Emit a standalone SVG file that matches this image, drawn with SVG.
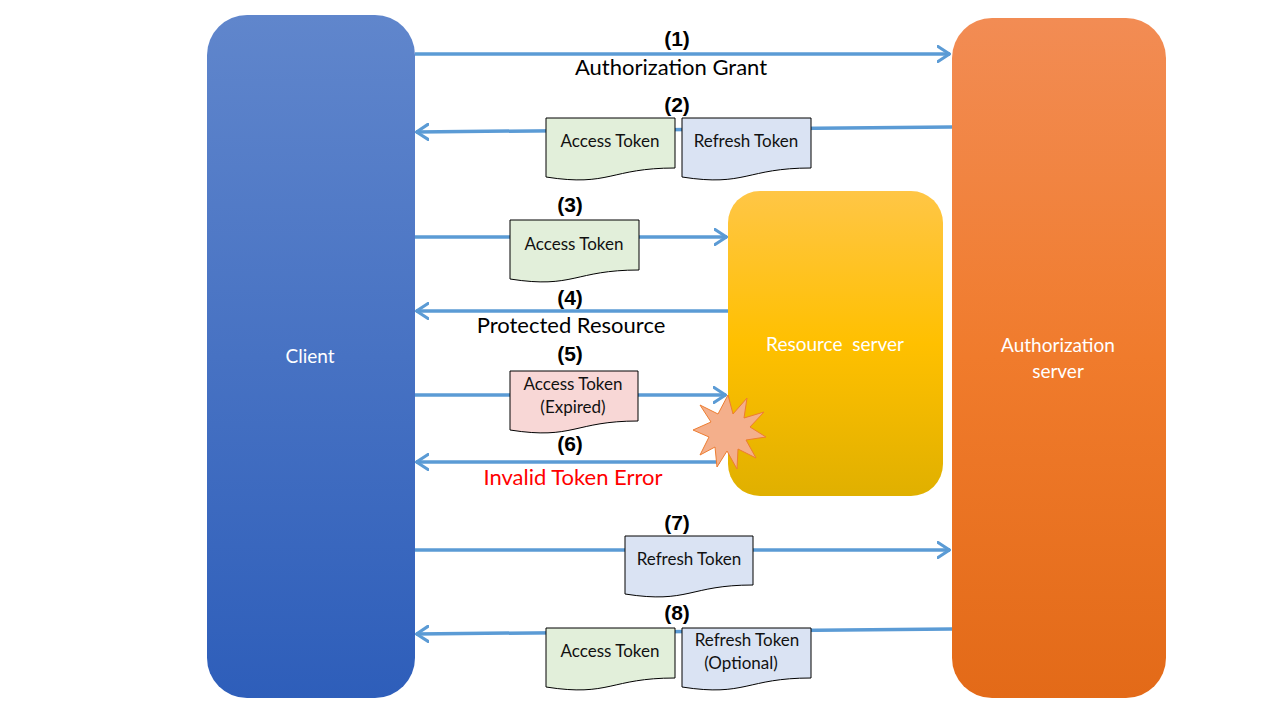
<svg xmlns="http://www.w3.org/2000/svg" width="1280" height="720" viewBox="0 0 1280 720">
<defs>
<linearGradient id="gClient" x1="0" y1="0" x2="0" y2="1">
<stop offset="0" stop-color="#6086CC"/><stop offset="1" stop-color="#2E5EBA"/>
</linearGradient>
<linearGradient id="gAuth" x1="0" y1="0" x2="0" y2="1">
<stop offset="0" stop-color="#F28C54"/><stop offset="0.5" stop-color="#F07B2C"/><stop offset="1" stop-color="#E36A18"/>
</linearGradient>
<linearGradient id="gRes" x1="0" y1="0" x2="0" y2="1">
<stop offset="0" stop-color="#FFC646"/><stop offset="0.5" stop-color="#FFC000"/><stop offset="1" stop-color="#E0B000"/>
</linearGradient>
<marker id="ah" viewBox="0 0 14 18" refX="13" refY="9" markerWidth="14" markerHeight="18" markerUnits="userSpaceOnUse" orient="auto">
<path d="M1,1.5 L12.5,9 L1,16.5" fill="none" stroke="#5B9BD5" stroke-width="3.2" stroke-linecap="round" stroke-linejoin="round"/>
</marker>
</defs>
<style>
.conn{stroke:#5B9BD5;stroke-width:3.5;fill:none;marker-end:url(#ah)}
.doc{stroke:#000;stroke-width:1;}
.green{fill:#E2EFDA}
.blue{fill:#DAE3F3}
.pink{fill:#F8D7D6}
.dt{font-family:Lato,"Liberation Sans",sans-serif;font-size:17px;fill:#111;text-anchor:middle}
.num{font-family:"Liberation Sans",sans-serif;font-weight:bold;font-size:21px;fill:#000;text-anchor:middle}
.lbl{font-family:Lato,"Liberation Sans",sans-serif;font-size:22px;fill:#000;text-anchor:middle}
.wt{font-family:Lato,"Liberation Sans",sans-serif;font-size:19px;fill:#fff;text-anchor:middle}
</style>

<g id="client">
<rect x="207" y="15" width="208" height="683" rx="40" fill="url(#gClient)"/>
<text class="wt" x="310" y="363">Client</text>
</g>
<g id="authserver">
<rect x="952" y="18" width="214" height="680" rx="40" fill="url(#gAuth)"/>
<text class="wt" x="1058" y="352">Authorization</text>
<text class="wt" x="1058" y="378">server</text>
</g>
<g id="resserver">
<rect x="728" y="191" width="215" height="305" rx="32" fill="url(#gRes)"/>
<text class="wt" x="835" y="351" xml:space="preserve">Resource  server</text>
</g>

<g id="connectors">
<line class="conn" x1="415" y1="54" x2="950" y2="54"/>
<line class="conn" x1="952" y1="127" x2="416" y2="132"/>
<line class="conn" x1="415" y1="237" x2="727" y2="237"/>
<line class="conn" x1="728" y1="311" x2="416" y2="311"/>
<line class="conn" x1="415" y1="395" x2="726" y2="395"/>
<line class="conn" x1="720" y1="462" x2="416" y2="462"/>
<line class="conn" x1="415" y1="550" x2="950" y2="550"/>
<line class="conn" x1="952" y1="629" x2="416" y2="634"/>
</g>

<g id="labels">
<text class="num" x="677" y="46">(1)</text>
<text class="lbl" x="671" y="75">Authorization Grant</text>
<text class="num" x="677" y="112">(2)</text>
<text class="num" x="570" y="212">(3)</text>
<text class="num" x="570" y="305">(4)</text>
<text class="lbl" x="571" y="333">Protected Resource</text>
<text class="num" x="570" y="361">(5)</text>
<text class="num" x="570" y="451">(6)</text>
<text class="lbl" x="573" y="485" style="fill:#FF0000">Invalid Token Error</text>
<text class="num" x="677" y="530">(7)</text>
<text class="num" x="677" y="620">(8)</text>
</g>

<g id="doc2a">
<path class="doc green" d="M546,118 H675 V168 C610,168 610,187 546,177 Z"/>
<text class="dt" x="610" y="147">Access Token</text>
</g>
<g id="doc2b">
<path class="doc blue" d="M682,118 H811 V168 C746,168 746,187 682,177 Z"/>
<text class="dt" x="746" y="147">Refresh Token</text>
</g>
<g id="doc3">
<path class="doc green" d="M510,220 H639 V270 C574,270 574,289 510,279 Z"/>
<text class="dt" x="574" y="250">Access Token</text>
</g>
<g id="doc5">
<path class="doc pink" d="M510,371 H638 V421 C574,421 574,440 510,430 Z"/>
<text class="dt" x="573" y="390">Access Token</text>
<text class="dt" x="573" y="413">(Expired)</text>
</g>
<g id="burst">
<polygon fill="#F4AF8B" stroke="#ED7D31" stroke-width="1" points="728,395 733,414 747,398 744,418 764,412 750,427 766,437 746,440 756,458 738,449 737,469 727,451 717,467 715,447 700,455 709,437 693,430 711,422 700,405 718,414"/>
</g>
<g id="doc7">
<path class="doc blue" d="M625,536 H753 V585 C689,585 689,604 625,594 Z"/>
<text class="dt" x="689" y="565">Refresh Token</text>
</g>
<g id="doc8a">
<path class="doc green" d="M546,628 H675 V678 C610,678 610,697 546,687 Z"/>
<text class="dt" x="610" y="657">Access Token</text>
</g>
<g id="doc8b">
<path class="doc blue" d="M682,628 H811 V678 C746,678 746,697 682,687 Z"/>
<text class="dt" x="747" y="646">Refresh Token</text>
<text class="dt" x="741" y="669">(Optional)</text>
</g>
</svg>
